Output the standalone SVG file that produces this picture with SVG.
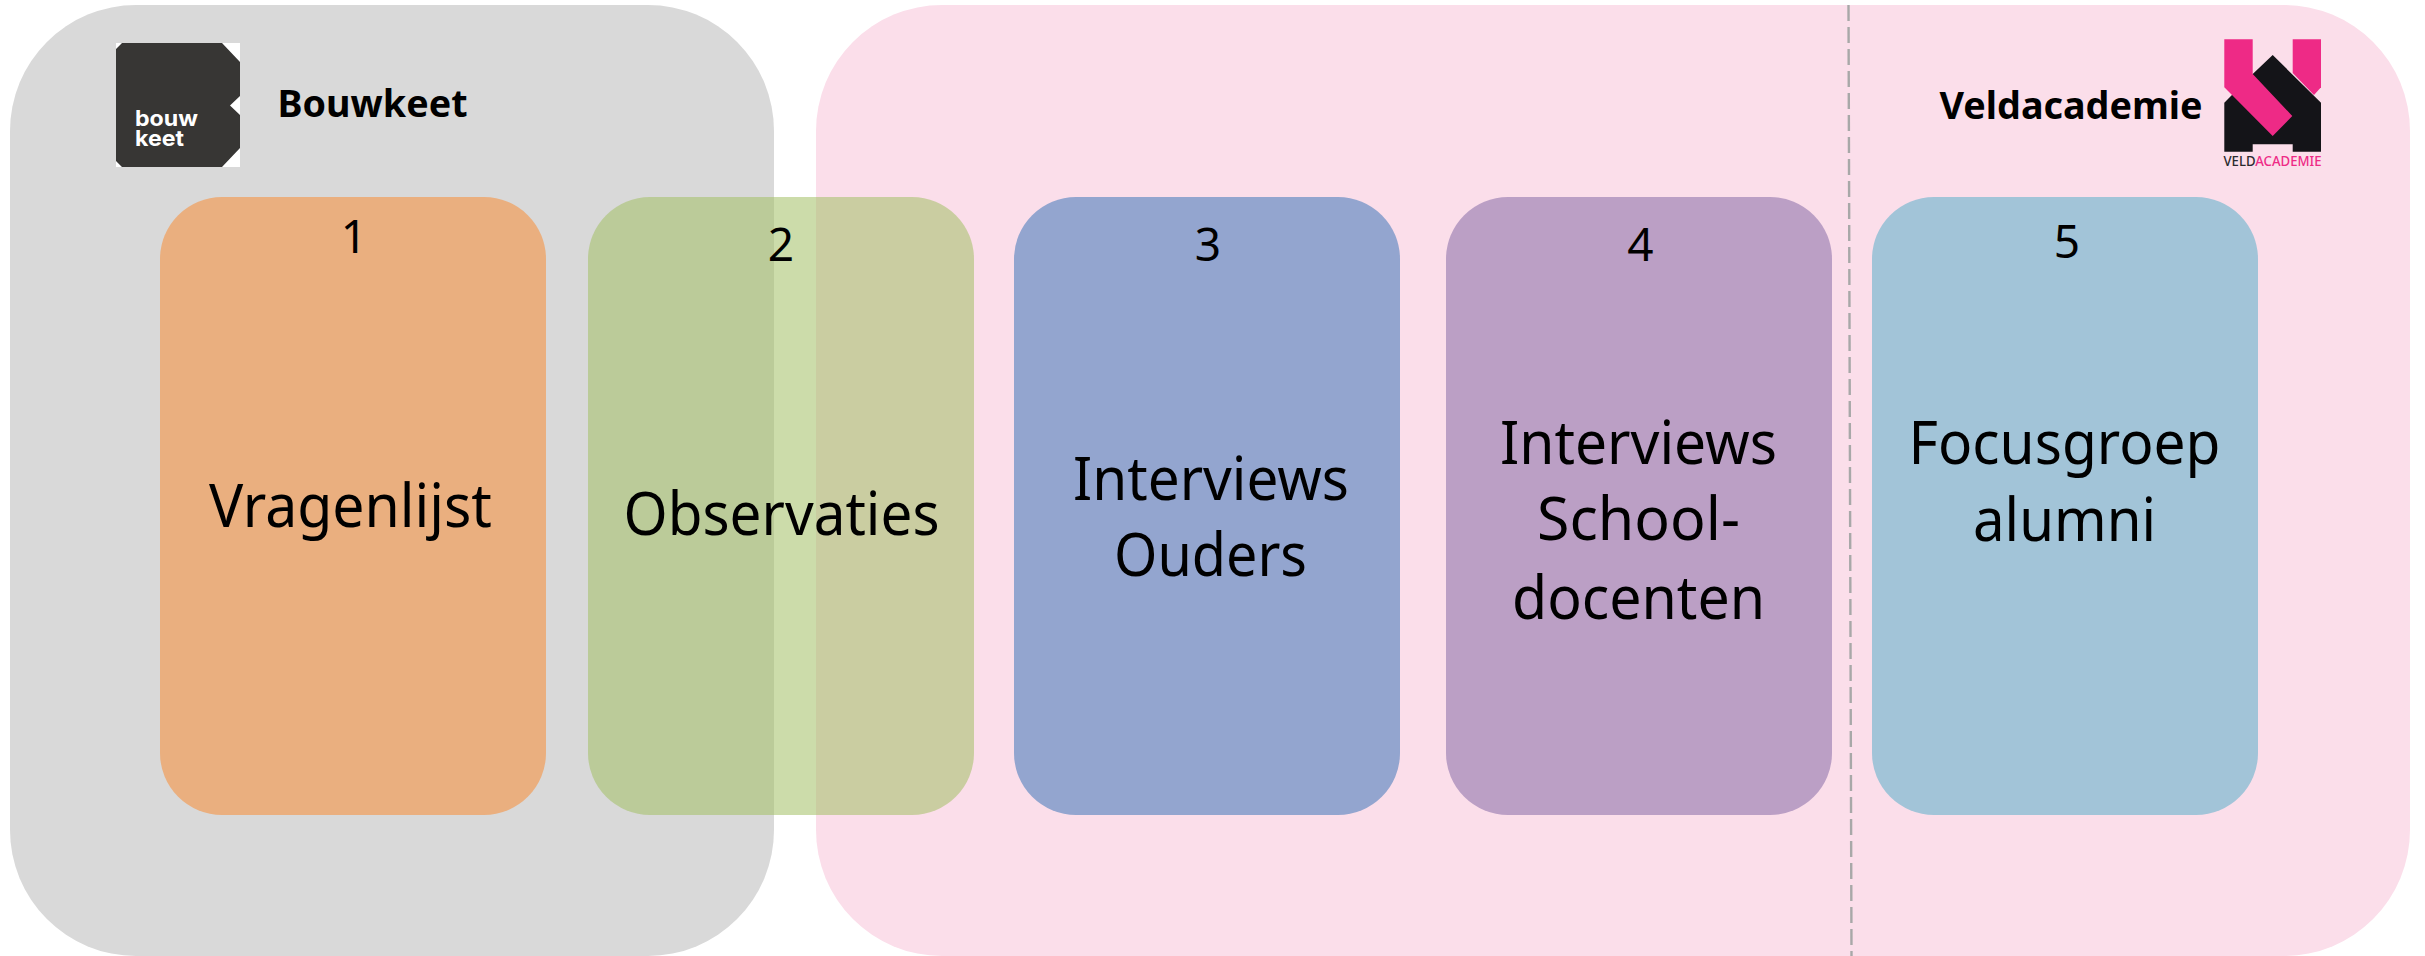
<svg xmlns="http://www.w3.org/2000/svg" width="2425" height="956" viewBox="0 0 2425 956">
<style>
text{font-family:"Noto Sans","Open Sans","Liberation Sans",sans-serif;fill:#000}
.b{font-size:61px}
.n{font-size:46px}
.h{font-size:38px;font-weight:700}
.c{fill-opacity:.55}
.k{font-size:22px;font-family:Inter,sans-serif;font-weight:700;fill:#fff}
</style>
<rect width="2425" height="956" fill="#fff"/>
<g id="bouwkeet">
<rect x="10" y="5" width="764" height="951" rx="126" ry="126" fill="#d9d9d9"/>
<g id="bouwkeet-logo">
<rect x="116" y="43" width="124" height="124" fill="#fff"/>
<polygon points="116,49 122,43 222,43 240,62 240,96 230,105.500 240,115 240,148 222,167 122,167 116,161" fill="#373634"/>
<text class="k" x="135" y="126" textLength="63" lengthAdjust="spacingAndGlyphs">bouw</text>
<text class="k" x="135" y="146" textLength="49" lengthAdjust="spacingAndGlyphs">keet</text>
</g>
<text class="h" x="277.500" y="116.500" textLength="190" lengthAdjust="spacingAndGlyphs">Bouwkeet</text>
</g>
<g id="veldacademie">
<rect x="816" y="5" width="1594" height="951" rx="126" ry="126" fill="#fbdeea"/>
<g id="veldacademie-logo">
<polygon points="2292.700,39.300 2321,39.300 2321,87.300 2314,95 2292.700,73" fill="#ee2a86"/>
<polygon points="2272.700,55 2321,102.700 2321,151.700 2292.700,151.700 2292.700,144.300 2252.700,144.300 2252.700,151.700 2224.300,151.700 2224.300,102.700 2252.700,74" fill="#141418"/>
<polygon points="2224.300,39.300 2252.700,39.300 2252.700,74 2292.300,116 2272.700,136 2224.300,87.300" fill="#ee2a86"/>
<text x="2223.500" y="165.700" style="font-size:14.500px;font-weight:500" textLength="98" lengthAdjust="spacingAndGlyphs"><tspan style="fill:#2a2a2e">VELD</tspan><tspan style="fill:#ee2a86">ACADEMIE</tspan></text>
</g>
<text class="h" x="1939.500" y="119" textLength="263" lengthAdjust="spacingAndGlyphs">Veldacademie</text>
</g>
<g id="connectors">
<line x1="1848.500" y1="5" x2="1851.500" y2="956" stroke="#a8a8a8" stroke-width="2.400" stroke-dasharray="16 6"/>
</g>
<g id="node1">
<rect x="160" y="197" width="386" height="618" rx="62" ry="62" fill="#eaaf7f"/>
<text class="n" x="354" y="253" text-anchor="middle">1</text>
<text class="b" x="209" y="527" textLength="283" lengthAdjust="spacingAndGlyphs">Vragenlijst</text>
</g>
<g id="node2">
<rect x="588" y="197" width="386" height="618" rx="62" ry="62" fill="#a3c065" class="c"/>
<text class="n" x="781" y="261" text-anchor="middle">2</text>
<text class="b" x="623.500" y="535" textLength="316" lengthAdjust="spacingAndGlyphs">Observaties</text>
</g>
<g id="node3">
<rect x="1014" y="197" width="386" height="618" rx="62" ry="62" fill="#93a5cf"/>
<text class="n" x="1208" y="261" text-anchor="middle">3</text>
<text class="b" x="1073" y="499.500" textLength="276" lengthAdjust="spacingAndGlyphs">Interviews</text>
<text class="b" x="1114" y="575.500" textLength="193" lengthAdjust="spacingAndGlyphs">Ouders</text>
</g>
<g id="node4">
<rect x="1446" y="197" width="386" height="618" rx="62" ry="62" fill="#bb9fc5"/>
<text class="n" x="1640.500" y="261" text-anchor="middle">4</text>
<text class="b" x="1500" y="464" textLength="277" lengthAdjust="spacingAndGlyphs">Interviews</text>
<text class="b" x="1537" y="540" textLength="203" lengthAdjust="spacingAndGlyphs">School-</text>
<text class="b" x="1512" y="618.500" textLength="253" lengthAdjust="spacingAndGlyphs">docenten</text>
</g>
<g id="node5">
<rect x="1872" y="197" width="386" height="618" rx="62" ry="62" fill="#a2c4d8"/>
<text class="n" x="2067" y="258" text-anchor="middle">5</text>
<text class="b" x="1908.500" y="464" textLength="312" lengthAdjust="spacingAndGlyphs">Focusgroep</text>
<text class="b" x="1973" y="541" textLength="183" lengthAdjust="spacingAndGlyphs">alumni</text>
</g>
</svg>
